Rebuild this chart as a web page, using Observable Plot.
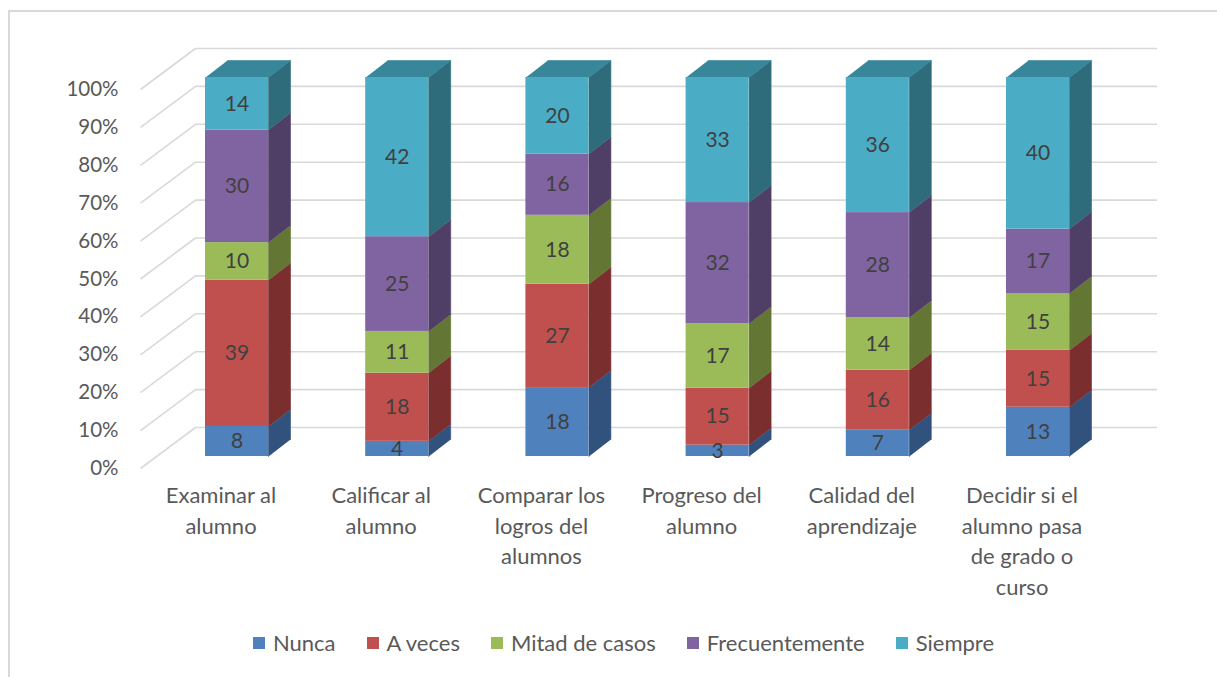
<!DOCTYPE html>
<html><head><meta charset="utf-8">
<script src="https://cdn.jsdelivr.net/npm/d3@7"></script>
<script src="https://cdn.jsdelivr.net/npm/@observablehq/plot@0.6"></script>
<style>
body{margin:0;background:#fff;font-family:Lato,sans-serif;}
#wrap{position:relative;width:1217px;height:677px;overflow:hidden;}
#frame{position:absolute;left:8px;top:10px;width:1300px;height:800px;border-top:2px solid #d9d9d9;border-left:2px solid #d9d9d9;}
#chart{position:absolute;left:0;top:0;}
#legend{position:absolute;left:0;width:1278px;top:626px;display:flex;justify-content:center;}
.lg-swatch{margin-right:31px !important;}
.lg-swatch svg{margin-right:8px !important;}
</style></head><body>
<div id="wrap"><div id="frame"></div><div id="chart"></div><div id="legend"></div></div>
<script>
// ---- data ----
const categories = ["Examinar al\nalumno", "Calificar al\nalumno", "Comparar los\nlogros del\nalumnos", "Progreso del\nalumno", "Calidad del\naprendizaje", "Decidir si el\nalumno pasa\nde grado o\ncurso"];
const series = ["Nunca", "A veces", "Mitad de casos", "Frecuentemente", "Siempre"];
const nunca = [8, 4, 18, 3, 7, 13];
const aVeces = [39, 18, 27, 15, 16, 15];
const mitadDeCasos = [10, 11, 18, 17, 14, 15];
const frecuentemente = [30, 25, 16, 32, 28, 17];
const siempre = [14, 42, 20, 33, 36, 40];
const yTicks = [0, 10, 20, 30, 40, 50, 60, 70, 80, 90, 100];

// ---- styles ----
const frontColors = ["#4f81bd", "#c0504d", "#9bbb59", "#8064a2", "#4bacc6"];
const sideColors = ["#30527c", "#7a2e2d", "#637634", "#4f3e66", "#2f6c7b"];
const topColor = "#37869a";
const gridColor = "#d9d9d9";

// ---- layout (pixels) ----
const W = 1217, H = 610;
const xRange = [236.5, 1037.5], yRange = [456, 77];
const kx = (xRange[1] - xRange[0]) / 5, ky = (yRange[0] - yRange[1]) / 100;
const px2x = p => (p - xRange[0]) / kx;
const hw = 31.5 / kx;                 // half bar width
const bdx = 22 / kx, bdy = 17 / ky;   // bar depth
const wallBack = 29 / ky, floorFront = 12 / ky;

// ---- derived table ----
const values = [nunca, aVeces, mitadDeCasos, frecuentemente, siempre];
const rows = [];
categories.forEach((c, i) => {
  const total = d3.sum(values, s => s[i]);
  let cum = 0;
  values.forEach((s, k) => {
    const v = s[i];
    rows.push({i, cat: c, serie: series[k], k, v, y1: cum / total * 100, y2: (cum + v) / total * 100});
    cum += v;
  });
});
const sidePts = rows.flatMap((r, j) => [
  {id: j, x: r.i + hw, y: r.y1, c: sideColors[r.k]},
  {id: j, x: r.i + hw, y: r.y2, c: sideColors[r.k]},
  {id: j, x: r.i + hw + bdx, y: r.y2 + bdy, c: sideColors[r.k]},
  {id: j, x: r.i + hw + bdx, y: r.y1 + bdy, c: sideColors[r.k]}
]);
const topPts = categories.flatMap((c, i) => [
  {id: i, x: i - hw, y: 100},
  {id: i, x: i + hw, y: 100},
  {id: i, x: i + hw + bdx, y: 100 + bdy},
  {id: i, x: i - hw + bdx, y: 100 + bdy}
]);

const chart = Plot.plot({
  width: W, height: H,
  marginLeft: 0, marginRight: 0, marginTop: 0, marginBottom: 0,
  style: {fontFamily: "Lato, sans-serif", background: "transparent", overflow: "visible"},
  x: {domain: [0, 5], range: xRange, axis: null},
  y: {domain: [0, 100], range: yRange, axis: null},
  color: {domain: series, range: frontColors},
  marks: [
    Plot.ruleY(yTicks, {y: d => d + wallBack, x1: px2x(195), x2: px2x(1157), stroke: gridColor, strokeWidth: 1.6}),
    Plot.link(yTicks, {x1: px2x(140), y1: d => d - floorFront, x2: px2x(195), y2: d => d + wallBack, stroke: gridColor, strokeWidth: 1.6}),
    Plot.line(sidePts, {x: "x", y: "y", z: "id", fill: "c", stroke: "c", strokeWidth: 0.6, curve: "linear"}),
    Plot.line(topPts, {x: "x", y: "y", z: "id", fill: topColor, stroke: topColor, strokeWidth: 0.6}),
    Plot.rect(rows, {x1: d => d.i - hw, x2: d => d.i + hw, y1: "y1", y2: "y2", fill: "serie"}),
    Plot.text(rows, {x: "i", y: d => (d.y1 + d.y2) / 2, text: d => String(d.v), fontSize: 21, fill: "#404040"}),
    Plot.text(yTicks, {x: px2x(118), y: d => d - floorFront, text: d => d + "%", textAnchor: "end", fontSize: 20.5, fill: "#595959"}),
    Plot.text(categories, {x: (d, i) => i, y: 0, dx: -16, dy: 25, text: d => d, lineAnchor: "top", lineHeight: 1.39, fontSize: 22, fill: "#595959"})
  ]
});
document.getElementById("chart").appendChild(chart);

const legend = Plot.legend({
  legend: "swatches",
  color: {domain: series, range: frontColors},
  swatchSize: 12,
  className: "lg",
  style: {fontFamily: "Lato, sans-serif", fontSize: "22px", color: "#595959"}
});
document.getElementById("legend").appendChild(legend);
</script>
</body></html>
